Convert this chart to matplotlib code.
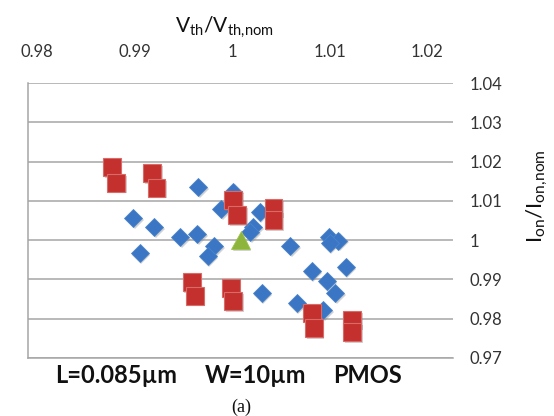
import matplotlib
matplotlib.use("Agg")
import matplotlib.pyplot as plt
import matplotlib.patheffects as pe

# ---- data ----
blue_x = [0.9960, 0.9993, 0.9899, 0.9919, 0.9943, 0.9959, 0.9982, 0.9975, 0.9969, 0.9905,
          1.0018, 1.0012, 1.0009, 1.0047, 1.0083, 1.0092, 1.0084, 1.0067, 1.0099, 1.0081,
          1.0089, 1.0053, 1.0078, 1.0020]
blue_y = [1.0135, 1.0123, 1.0056, 1.0033, 1.0008, 1.0016, 1.0079, 0.9985, 0.9960, 0.9967,
          1.0072, 1.0033, 1.0021, 0.9985, 1.0008, 0.9999, 0.9993, 0.9921, 0.9932, 0.9896,
          0.9865, 0.9840, 0.9822, 0.9865]
red_x = [0.9879, 0.9883, 0.9917, 0.9921, 0.9993, 0.9997, 1.0031, 1.0031,
         0.9954, 0.9957, 0.9991, 0.9993, 1.0067, 1.0069, 1.0105, 1.0105]
red_y = [1.0186, 1.0146, 1.0171, 1.0133, 1.0102, 1.0064, 1.0082, 1.0051,
         0.9893, 0.9858, 0.9878, 0.9845, 0.9815, 0.9776, 0.9797, 0.9766]
nom_x = [1.0]
nom_y = [1.0]

x_ticks = [0.98, 0.99, 1.00, 1.01, 1.02]
x_tick_labels = ["0.98", "0.99", "1", "1.01", "1.02"]
y_ticks = [0.97, 0.98, 0.99, 1.00, 1.01, 1.02, 1.03, 1.04]
y_tick_labels = ["0.97", "0.98", "0.99", "1", "1.01", "1.02", "1.03", "1.04"]

# ---- style ----
plt.rcParams['font.family'] = ['Lato', 'DejaVu Sans']
plt.rcParams['mathtext.fontset'] = 'custom'
plt.rcParams['mathtext.rm'] = 'Lato'
plt.rcParams['mathtext.it'] = 'Lato'

W, H = 554, 416
fig = plt.figure(figsize=(W / 100, H / 100), dpi=100)
L, R, T, B = 28, 453, 83, 358
ax = fig.add_axes([L / W, 1 - B / H, (R - L) / W, (B - T) / H])

grid_c = '#A6A6A6'
ax.set_xlim(0.98, 1.02)
ax.set_ylim(0.97, 1.04)
ax.set_yticks(y_ticks)
ax.set_yticklabels(y_tick_labels)
ax.yaxis.tick_right()
ax.tick_params(axis='y', length=0, pad=12, labelsize=12, labelcolor='#333333')
ax.set_xticks([])
ax.grid(axis='y', color=grid_c, lw=1.1)
ax.set_axisbelow(True)
for s in ['top', 'right']:
    ax.spines[s].set_visible(False)
for s in ['left', 'bottom']:
    ax.spines[s].set_color(grid_c)
    ax.spines[s].set_linewidth(1.1)

shadow = [pe.SimplePatchShadow(offset=(1.2, -1.2), shadow_rgbFace='#808080', alpha=0.35), pe.Normal()]

ax.plot(blue_x, blue_y, linestyle='none', marker='D', markersize=9.2,
        markerfacecolor='#3A76C4', markeredgecolor='#4A84CC', markeredgewidth=0.6,
        path_effects=shadow, clip_on=False, zorder=3)
ax.plot(red_x, red_y, linestyle='none', marker='s', markersize=12.8,
        markerfacecolor='#C4302E', markeredgecolor='#D86A68', markeredgewidth=0.8,
        path_effects=shadow, clip_on=False, zorder=4)
ax.plot(nom_x, nom_y, linestyle='none', marker='^', markersize=13,
        markerfacecolor='#8DB43C', markeredgecolor='#9CC24C', markeredgewidth=0.6,
        path_effects=shadow, clip_on=False, zorder=5)

# top axis labels (offset like the original rendering)
ax2 = ax.twiny()
ax2.set_xlim(0.979077, 1.022667)
ax2.set_xticks(x_ticks)
ax2.set_xticklabels(x_tick_labels)
ax2.tick_params(axis='x', length=0, pad=16.5, labelsize=12, labelcolor='#333333')
for s in ax2.spines.values():
    s.set_visible(False)

fig.text(224 / W, 1 - 33 / H, r'$\mathrm{V_{th}/V_{th,\!nom}}$', ha='center', va='baseline',
         fontsize=15, color='#111111')
fig.text(537 / W, 1 - 196 / H, r'$\mathrm{I_{on}/I_{on,\!nom}}$', ha='center', va='center',
         rotation=90, fontsize=16, color='#111111')

for txt, xp in [("L=0.085µm", 55), ("W=10µm", 205), ("PMOS", 333)]:
    fig.text(xp / W, 1 - 383 / H, txt, ha='left', va='baseline', fontsize=17,
             fontweight='bold', color='#111111')

fig.text(241 / W, 1 - 407 / H, "(a)", ha='center', va='center', fontsize=13,
         family='Liberation Serif', color='#111111')

fig.savefig('out.png', dpi=100)
